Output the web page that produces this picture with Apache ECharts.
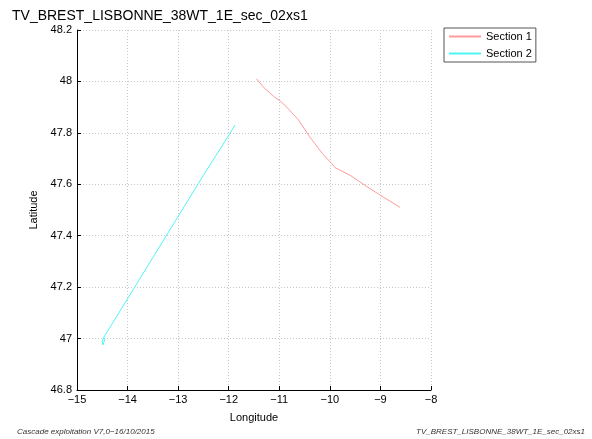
<!DOCTYPE html>
<html><head><meta charset="utf-8">
<script src="https://cdn.jsdelivr.net/npm/echarts@6/dist/echarts.min.js"></script>
<style>html,body{margin:0;padding:0;background:#fff}#c{width:592px;height:439px}</style>
</head><body><div id="c"></div>
<script>
var titleText = 'TV_BREST_LISBONNE_38WT_1E_sec_02xs1';
var footerLeft = 'Cascade exploitation V7,0\u221216/10/2015';
var footerRight = 'TV_BREST_LISBONNE_38WT_1E_sec_02xs1';
var seriesNames = ['Section 1', 'Section 2'];
var section1Lon = [-11.45, -11.30, -11.10, -10.99, -10.85, -10.76, -10.62, -10.40, -10.15, -9.96, -9.90, -9.60, -9.30, -8.94, -8.61];
var section1Lat = [48.01, 47.975, 47.94, 47.925, 47.90, 47.88, 47.85, 47.785, 47.72, 47.68, 47.665, 47.635, 47.595, 47.55, 47.51];
var section2Lon = [-14.47, -14.50, -14.49, -14.46, -14.45, -14.47, -14.00, -13.50, -13.00, -12.50, -12.00, -11.876];
var section2Lat = [47.005, 46.99, 46.975, 46.98, 46.995, 47.005, 47.155, 47.315, 47.475, 47.635, 47.79, 47.83];
var xTicks = {min: -15, max: -8, interval: 1};
var yTicks = {min: 46.8, max: 48.2, interval: 0.2};

function zip(a, b) { return a.map(function (v, i) { return [v, b[i]]; }); }
var font = 'Liberation Sans, Arial, sans-serif';
var chart = echarts.init(document.getElementById('c'));
chart.setOption({
  animation: false,
  title: [
    {text: titleText, left: 7, top: 4, textStyle: {fontFamily: font, fontSize: 14, fontWeight: 'normal', color: '#000'}},
    {text: footerLeft, left: 12, top: 423, textStyle: {fontFamily: font, fontSize: 8, fontStyle: 'italic', fontWeight: 'normal', color: '#333'}},
    {text: footerRight, right: 2, top: 423, textStyle: {fontFamily: font, fontSize: 8, fontStyle: 'italic', fontWeight: 'normal', color: '#333'}}
  ],
  legend: {
    data: seriesNames, orient: 'vertical', left: 444, top: 28, itemWidth: 32, itemHeight: 2, itemGap: 6,
    padding: [3, 4, 3, 5], borderColor: '#555', borderWidth: 1,
    icon: 'rect',
    textStyle: {fontFamily: font, fontSize: 11, color: '#000'}
  },
  grid: {left: 77, right: 161, top: 30, bottom: 49},
  xAxis: {
    type: 'value', min: xTicks.min, max: xTicks.max, interval: xTicks.interval,
    name: 'Longitude', nameLocation: 'middle', nameGap: 22,
    nameTextStyle: {fontFamily: font, fontSize: 11, color: '#000'},
    axisLine: {lineStyle: {color: '#000', width: 1}},
    axisTick: {inside: true, length: 4, lineStyle: {color: '#000'}},
    axisLabel: {fontFamily: font, fontSize: 11, color: '#000', margin: 4,
      formatter: function (v) { return String(v).replace('-', '\u2212'); }},
    splitLine: {show: true, lineStyle: {color: '#c8c8c8', type: [1, 2], width: 1}}
  },
  yAxis: {
    type: 'value', min: yTicks.min, max: yTicks.max, interval: yTicks.interval,
    name: 'Latitude', nameLocation: 'middle', nameGap: 33, nameRotate: 90,
    nameTextStyle: {fontFamily: font, fontSize: 11, color: '#000'},
    axisLine: {show: true, lineStyle: {color: '#000', width: 1}},
    axisTick: {show: true, inside: true, length: 4, lineStyle: {color: '#000'}},
    axisLabel: {fontFamily: font, fontSize: 11, color: '#000', margin: 5,
      formatter: function (v) { return String(parseFloat(v.toFixed(1))); }},
    splitLine: {show: true, lineStyle: {color: '#c8c8c8', type: [1, 2], width: 1}}
  },
  series: [
    {name: seriesNames[0], type: 'line', data: zip(section1Lon, section1Lat), showSymbol: false, symbol: 'none',
      lineStyle: {color: '#ff9a9a', width: 1}, itemStyle: {color: '#ff9a9a'}},
    {name: seriesNames[1], type: 'line', data: zip(section2Lon, section2Lat), showSymbol: false, symbol: 'none',
      lineStyle: {color: '#4ff5f5', width: 1}, itemStyle: {color: '#4ff5f5'}}
  ]
});
</script></body></html>
